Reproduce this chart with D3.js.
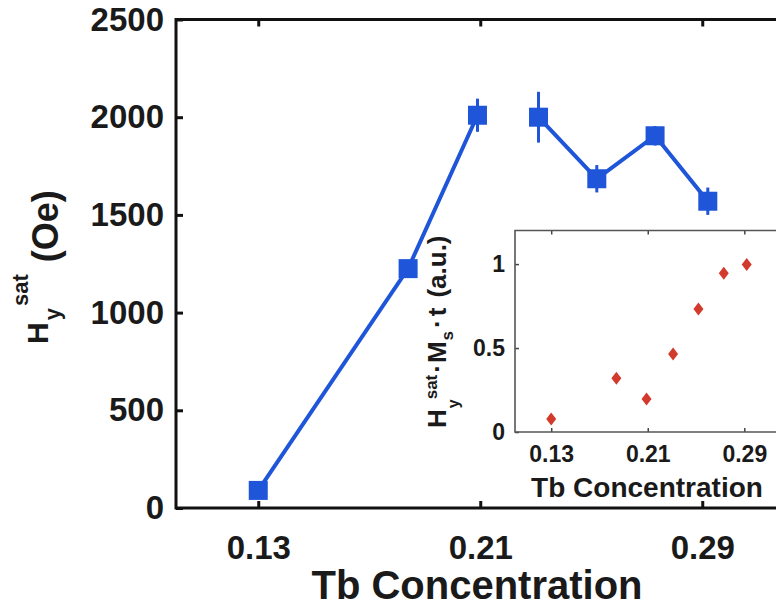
<!DOCTYPE html>
<html>
<head>
<meta charset="utf-8">
<script src="https://cdn.jsdelivr.net/npm/d3@7"></script>
<style>
  body { margin: 0; background: #fff; }
  svg text { font-family: "Liberation Sans", Arial, sans-serif; font-weight: bold; fill: #1a1a1a; }
</style>
</head>
<body>
<svg id="main" width="776" height="609"></svg>
<script>
// main panel: saturation field vs Tb concentration
const tb = [0.13, 0.184, 0.209, 0.231, 0.252, 0.273, 0.292];
const hsat = [90, 1225, 2010, 2000, 1685, 1905, 1570];
const hsatErr = [0, 40, 85, 130, 70, 50, 70];
const segment = [0, 0, 0, 1, 1, 1, 1]; // two separate line pieces
// inset: H * Ms * t
const insetVal = [0.077, 0.32, 0.196, 0.464, 0.732, 0.945, 0.998];

const xTicks = [0.13, 0.21, 0.29];
const yTicks = [0, 500, 1000, 1500, 2000, 2500];
const insetYTicks = [0, 0.5, 1];

const blue = '#1f55d9';
const red = '#d23a2c';

const svg = d3.select('#main');

const x = d3.scaleLinear().domain([0.1, 0.32]).range([175, 785.5]);
const y = d3.scaleLinear().domain([0, 2500]).range([508, 19.5]);

// axes
const gx = svg.append('g').attr('transform', 'translate(0,508)')
    .call(d3.axisBottom(x).tickValues(xTicks).tickFormat(d3.format('.2f'))
        .tickSize(-7).tickSizeOuter(0).tickPadding(28));
const gxTop = svg.append('g').attr('transform', 'translate(0,19.5)')
    .call(d3.axisTop(x).tickValues(xTicks).tickFormat('').tickSize(-7).tickSizeOuter(0));
const gy = svg.append('g').attr('transform', 'translate(176,0)')
    .call(d3.axisLeft(y).tickValues(yTicks).tickFormat(d3.format('d'))
        .tickSize(-7).tickSizeOuter(0).tickPadding(12));

[gx, gxTop, gy].forEach(g => {
    g.select('.domain').remove();
    g.selectAll('.tick line').attr('stroke', '#111').attr('stroke-width', 3);
    g.selectAll('text').style('font-size', '33px').attr('fill', '#1a1a1a');
});

// frame lines
svg.append('path')
    .attr('d', `M${x.range()[1]},19.5 H176 V508 H${x.range()[1]}`)
    .attr('fill', 'none').attr('stroke', '#111').attr('stroke-width', 3);

const pts = tb.map((t, i) => ({ t, v: hsat[i], e: hsatErr[i], s: segment[i] }));

const line = d3.line().x(d => x(d.t)).y(d => y(d.v));
d3.groups(pts, d => d.s).forEach(([, seg]) => {
    svg.append('path').attr('d', line(seg))
        .attr('fill', 'none').attr('stroke', blue).attr('stroke-width', 4);
});

svg.selectAll('.err').data(pts.filter(d => d.e > 0)).join('line')
    .attr('x1', d => x(d.t)).attr('x2', d => x(d.t))
    .attr('y1', d => y(d.v + d.e)).attr('y2', d => y(d.v - d.e))
    .attr('stroke', blue).attr('stroke-width', 3);

svg.selectAll('.sq').data(pts).join('rect')
    .attr('x', d => x(d.t) - 9.5).attr('y', d => y(d.v) - 9.5)
    .attr('width', 19).attr('height', 19).attr('fill', blue);

svg.append('text').attr('x', 477).attr('y', 599).attr('text-anchor', 'middle')
    .style('font-size', '40px').text('Tb Concentration');

// rotated label made of pieces (sub/superscripts)
function richLabel(g, pieces) {
    let cursor = 0;
    pieces.forEach(p => {
        const start = cursor + (p.gap || 0);
        const t = g.append('text').attr('x', start).attr('y', p.base)
            .style('font-size', p.size + 'px').text(p.text);
        cursor = start + t.node().getComputedTextLength();
    });
}

richLabel(svg.append('g').attr('transform', 'translate(0,344) rotate(-90)'), [
    { text: 'H', size: 30, base: 48 },
    { text: 'y', size: 22, base: 60, gap: 2 },
    { text: 'sat', size: 22, base: 28, gap: 2 },
    { text: '(Oe)', size: 36, base: 58, gap: 12 }
]);

// inset
const ix = d3.scaleLinear().domain([0.1, 0.32]).range([515, 780.5]);
const iy = d3.scaleLinear().domain([0, 1.2]).range([432, 230.5]);

svg.append('rect').attr('x', 515).attr('y', 230.5).attr('width', 270).attr('height', 201.5)
    .attr('fill', '#fff');

const igx = svg.append('g').attr('transform', 'translate(0,432)')
    .call(d3.axisBottom(ix).tickValues(xTicks).tickFormat(d3.format('.2f'))
        .tickSize(-4).tickSizeOuter(0).tickPadding(14));
const igxTop = svg.append('g').attr('transform', 'translate(0,230.5)')
    .call(d3.axisTop(ix).tickValues(xTicks).tickFormat('').tickSize(-4).tickSizeOuter(0));
const igy = svg.append('g').attr('transform', 'translate(515,0)')
    .call(d3.axisLeft(iy).tickValues(insetYTicks).tickFormat(d => d)
        .tickSize(-4).tickSizeOuter(0).tickPadding(10));

[igx, igxTop, igy].forEach(g => {
    g.select('.domain').remove();
    g.selectAll('.tick line').attr('stroke', '#444').attr('stroke-width', 1.5);
    g.selectAll('text').style('font-size', '23px').attr('fill', '#1a1a1a');
});

svg.append('path')
    .attr('d', `M785,230.5 H515 V432 H785`)
    .attr('fill', 'none').attr('stroke', '#555').attr('stroke-width', 1.6);

svg.selectAll('.dia').data(tb).join('path')
    .attr('transform', (d, i) => `translate(${ix(d)},${iy(insetVal[i])})`)
    .attr('d', 'M0,-6.5 L5,0 L0,6.5 L-5,0Z')
    .attr('fill', red);

svg.append('text').attr('x', 647).attr('y', 497).attr('text-anchor', 'middle')
    .style('font-size', '28px').text('Tb Concentration');

richLabel(svg.append('g').attr('transform', 'translate(0,428) rotate(-90)'), [
    { text: 'H', size: 26, base: 446 },
    { text: 'y', size: 16, base: 459, gap: 1 },
    { text: 'sat', size: 17, base: 437, gap: 0 },
    { text: '·', size: 26, base: 446, gap: 2 },
    { text: 'M', size: 26, base: 446, gap: 1 },
    { text: 's', size: 17, base: 453, gap: 1 },
    { text: '·', size: 26, base: 446, gap: 3 },
    { text: 't', size: 26, base: 446, gap: 3 },
    { text: '(a.u.)', size: 26, base: 446, gap: 10 }
]);
</script>
</body>
</html>
